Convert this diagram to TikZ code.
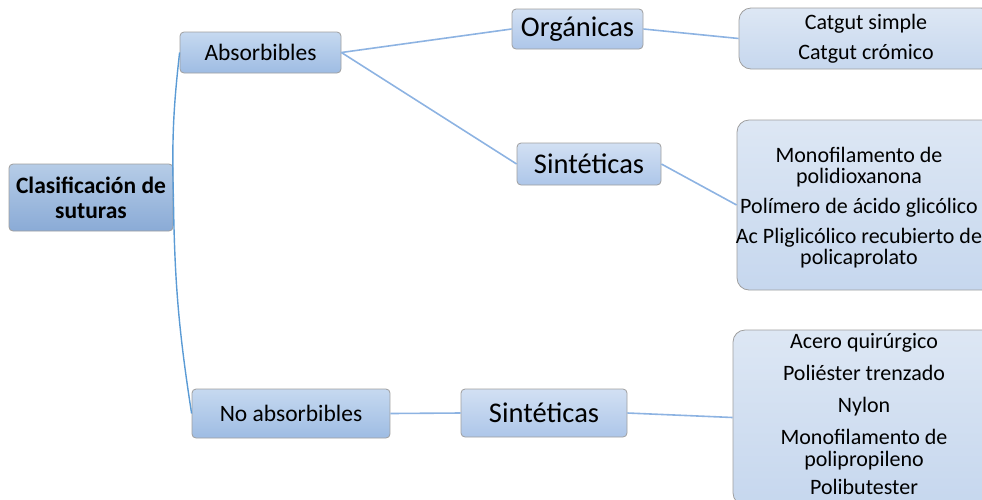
\documentclass[tikz,border=0pt]{standalone}
\usepackage{fontspec}
\setmainfont{Carlito}
\usepackage{xcolor}
\usepackage{tikz}
\definecolor{rootTop}{HTML}{B6CCE7}
\definecolor{rootBot}{HTML}{8AABD6}
\definecolor{branchTop}{HTML}{C6D9F0}
\definecolor{branchBot}{HTML}{9EBCE3}
\definecolor{typeTop}{HTML}{D2E0F3}
\definecolor{typeBot}{HTML}{ADC6E9}
\definecolor{leafTop}{HTML}{DDE7F4}
\definecolor{leafBot}{HTML}{C6D7EE}
\definecolor{linkBlue}{HTML}{8DB3E2}
\definecolor{rootLink}{HTML}{5B9BD5}
\tikzset{
  rootbox/.style={rectangle, rounded corners=4pt, draw=gray!75, line width=0.8pt, top color=rootTop, bottom color=rootBot, align=center, font=\fontsize{23.5}{25}\selectfont\bfseries},
  branchbox/.style={rectangle, rounded corners=4pt, draw=gray!75, line width=0.8pt, top color=branchTop, bottom color=branchBot, font=\fontsize{23.5}{25}\selectfont},
  typebox/.style={rectangle, rounded corners=4pt, draw=gray!75, line width=0.8pt, top color=typeTop, bottom color=typeBot, font=\fontsize{28.5}{30}\selectfont},
  leafbox/.style={rectangle, rounded corners=12pt, draw=gray!75, line width=0.8pt, top color=leafTop, bottom color=leafBot},
  leaftext/.style={align=center, inner sep=0pt, font=\fontsize{22}{21}\selectfont},
  link/.style={linkBlue, line width=1.6pt},
  rootlink/.style={rootLink, line width=1.4pt}
}
\begin{document}
\begin{tikzpicture}[x=1pt, y=-1pt]
\clip (0,0) rectangle (982,499);
% main boxes
\node[rootbox, minimum width=164, minimum height=67] (clasif) at (91,197.5) {Clasificación de\\suturas};
\node[branchbox, minimum width=161, minimum height=41] (absorb) at (260.5,52.5) {Absorbibles};
\node[branchbox, minimum width=198, minimum height=49] (noabsorb) at (291,413.5) {No absorbibles};
\node[typebox, minimum width=131, minimum height=40] (organ) at (577.5,29) {Orgánicas};
\node[typebox, minimum width=144, minimum height=42] (sintA) at (589,164) {Sintéticas};
\node[typebox, minimum width=166, minimum height=48] (sintB) at (544,413) {Sintéticas};

% leaf boxes
\node[leafbox, minimum width=254, minimum height=61] (catgut) at (866,38.5) {};
\node[leaftext, font=\fontsize{22}{30}\selectfont] at (catgut) {Catgut simple\\Catgut crómico};
\node[leafbox, minimum width=260, minimum height=170] (sintleafA) at (867,205) {};
\node[leaftext] at (859,208) {Monofilamento de\\polidioxanona\\[9pt]Polímero de ácido glicólico\\[9pt]Ac Pliglicólico recubierto de\\policaprolato};
\node[leafbox, minimum width=262, minimum height=175] (sintleafB) at (864,417.5) {};
\node[leaftext, font=\fontsize{22}{22}\selectfont] at (864,414) {Acero quirúrgico\\[10pt]Poliéster trenzado\\[10pt]Nylon\\[10pt]Monofilamento de\\polipropileno\\[6pt]Polibutester};

% connectors
\draw[rootlink] (clasif.east) to[bend left=4] (absorb.west);
\draw[rootlink] (clasif.east) to[bend right=4] (noabsorb.west);
\draw[link] (absorb.east) -- (organ.west);
\draw[link] (absorb.east) -- (sintA.west);
\draw[link] (organ.east) -- (catgut.west);
\draw[link] (sintA.east) -- (sintleafA.west);
\draw[link] (noabsorb.east) -- (sintB.west);
\draw[link] (sintB.east) -- (sintleafB.west);
\end{tikzpicture}
\end{document}
